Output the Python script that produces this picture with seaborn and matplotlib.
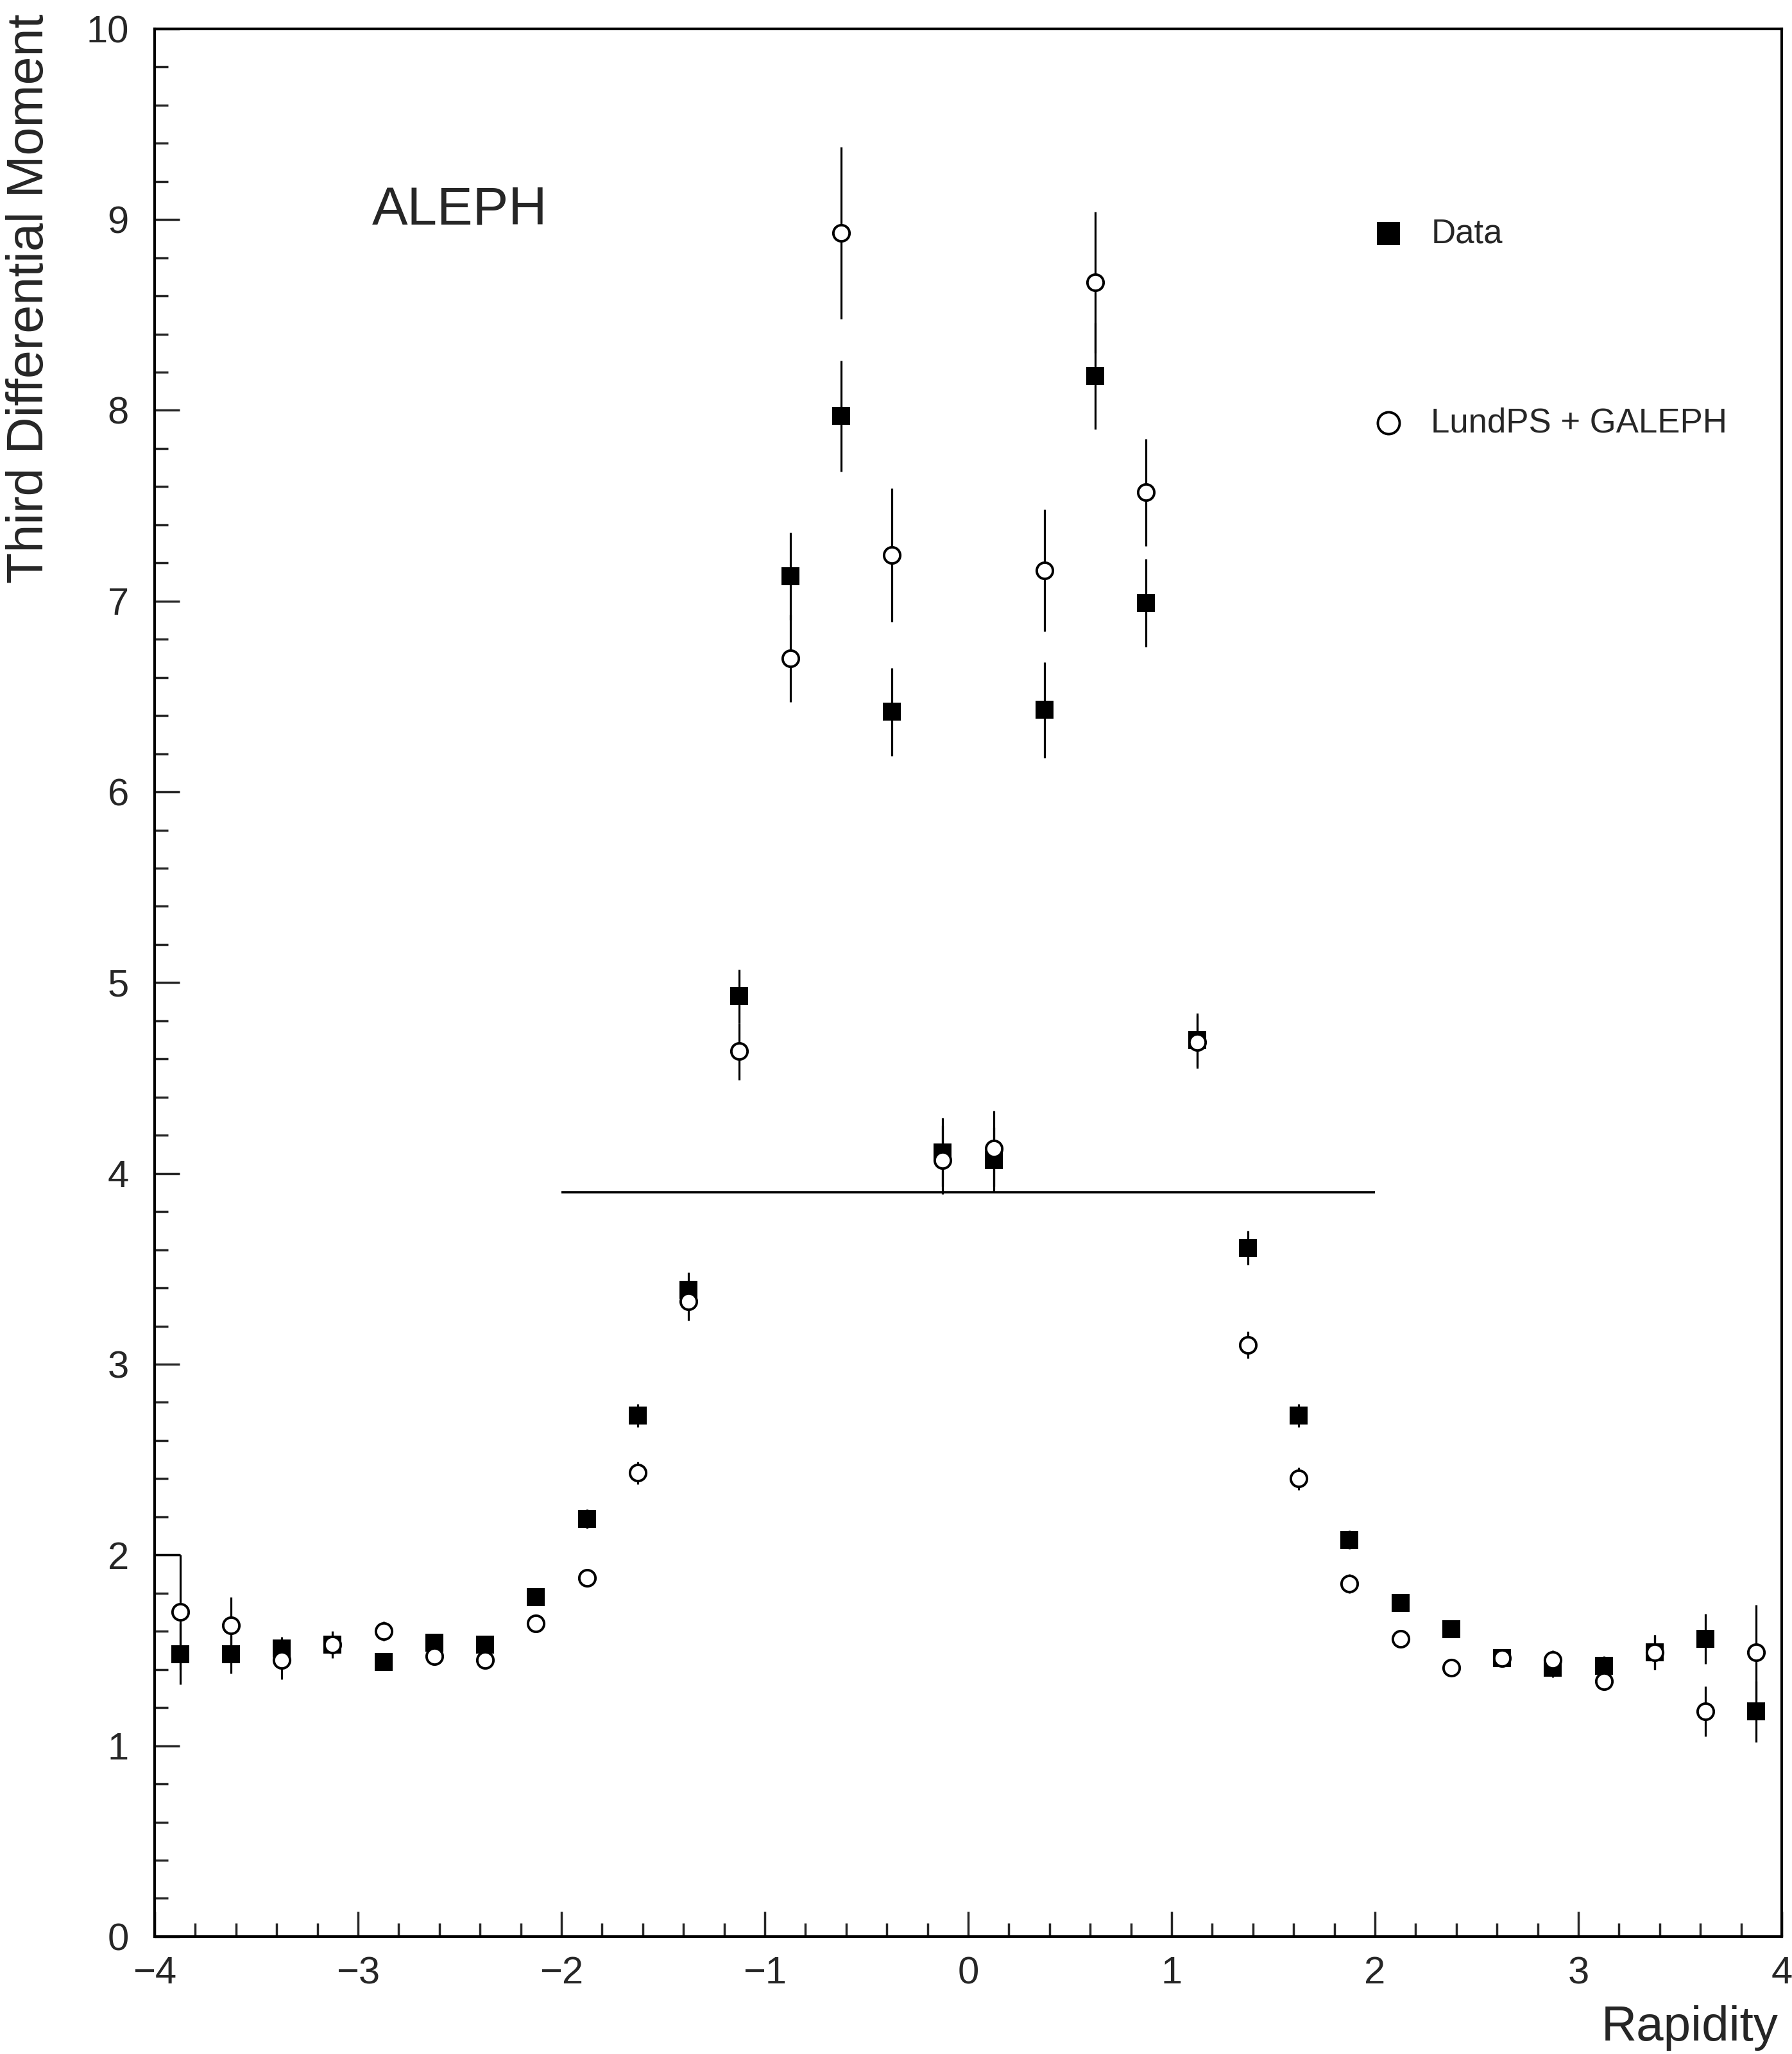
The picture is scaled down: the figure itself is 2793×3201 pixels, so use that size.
import numpy as np
import pandas as pd
import seaborn as sns
import matplotlib
matplotlib.use("Agg")
import matplotlib.pyplot as plt
from matplotlib.ticker import MultipleLocator

# Bin centres in rapidity
rapidity = [-3.875, -3.625, -3.375, -3.125, -2.875, -2.625, -2.375, -2.125,
            -1.875, -1.625, -1.375, -1.125, -0.875, -0.625, -0.375, -0.125,
            0.125, 0.375, 0.625, 0.875, 1.125, 1.375, 1.625, 1.875,
            2.125, 2.375, 2.625, 2.875, 3.125, 3.375, 3.625, 3.875]

# ALEPH data (filled squares)
data_moment = [1.48, 1.48, 1.51, 1.53, 1.44, 1.54, 1.53, 1.78,
               2.19, 2.73, 3.39, 4.93, 7.13, 7.97, 6.42, 4.11,
               4.07, 6.43, 8.18, 6.99, 4.70, 3.61, 2.73, 2.08,
               1.75, 1.61, 1.46, 1.41, 1.42, 1.49, 1.56, 1.18]
data_err = [0.16, 0.10, 0.06, 0.07, 0.04, 0.04, 0.04, 0.04,
            0.05, 0.06, 0.09, 0.14, 0.23, 0.29, 0.23, 0.18,
            0.17, 0.25, 0.28, 0.23, 0.14, 0.09, 0.06, 0.05,
            0.04, 0.04, 0.04, 0.05, 0.05, 0.09, 0.13, 0.16]

# LundPS + GALEPH (open circles)
mc_moment = [1.70, 1.63, 1.45, 1.53, 1.60, 1.47, 1.45, 1.64,
             1.88, 2.43, 3.33, 4.64, 6.70, 8.93, 7.24, 4.07,
             4.13, 7.16, 8.67, 7.57, 4.69, 3.10, 2.40, 1.85,
             1.56, 1.41, 1.46, 1.45, 1.34, 1.49, 1.18, 1.49]
mc_err = [0.30, 0.15, 0.10, 0.05, 0.05, 0.04, 0.04, 0.04,
          0.04, 0.06, 0.10, 0.15, 0.23, 0.45, 0.35, 0.18,
          0.20, 0.32, 0.37, 0.28, 0.14, 0.07, 0.06, 0.05,
          0.04, 0.04, 0.04, 0.05, 0.05, 0.09, 0.13, 0.25]

# horizontal reference line and the little edge step at the left
plateau_x = [-2.0, 2.0]
plateau_y = 3.9
edge_x = [-4.0, -3.875]
edge_y = 2.0

series_names = ["Data", "LundPS + GALEPH"]


def main():
    df = pd.DataFrame({
        "rapidity": rapidity * 2,
        "moment": data_moment + mc_moment,
        "err": data_err + mc_err,
        "sample": [series_names[0]] * len(rapidity) + [series_names[1]] * len(rapidity),
    })
    data = df[df["sample"] == series_names[0]]
    mc = df[df["sample"] == series_names[1]]

    sns.set_style("ticks")
    plt.rcParams["font.family"] = ["Liberation Sans", "DejaVu Sans"]

    fig = plt.figure(figsize=(27.93, 32.01), dpi=100)
    ax = fig.add_axes([0.0863, 0.0572, 0.908, 0.9288])

    # error bars
    ax.errorbar(data["rapidity"], data["moment"], yerr=data["err"], fmt="none",
                ecolor="black", elinewidth=2.3, capsize=0, zorder=1)
    ax.errorbar(mc["rapidity"], mc["moment"], yerr=mc["err"], fmt="none",
                ecolor="black", elinewidth=2.3, capsize=0, zorder=1)

    sns.scatterplot(data=data, x="rapidity", y="moment", marker="s", s=380,
                    color="black", edgecolor="black", linewidth=0, zorder=3,
                    label=series_names[0], ax=ax)
    sns.scatterplot(data=mc, x="rapidity", y="moment", marker="o", s=330,
                    color="white", edgecolor="black", linewidth=2.8, zorder=4,
                    label=series_names[1], ax=ax)

    ax.hlines(plateau_y, plateau_x[0], plateau_x[1], color="black", lw=2.6, zorder=2)
    ax.hlines(edge_y, edge_x[0], edge_x[1], color="black", lw=2.3, zorder=2)

    ax.text(-2.93, 9.05, "ALEPH", fontsize=60, va="center", ha="left")

    ax.set_xlim(-4, 4)
    ax.set_ylim(0, 10)
    ax.xaxis.set_major_locator(MultipleLocator(1))
    ax.xaxis.set_minor_locator(MultipleLocator(0.2))
    ax.yaxis.set_major_locator(MultipleLocator(1))
    ax.yaxis.set_minor_locator(MultipleLocator(0.2))
    ax.tick_params(which="both", direction="in", top=False, right=False, width=2.5)
    ax.tick_params(which="major", length=28, labelsize=43)
    ax.tick_params(which="minor", length=15)
    ax.tick_params(axis="x", pad=22)
    ax.tick_params(axis="y", pad=29)
    for sp in ax.spines.values():
        sp.set_linewidth(3)
        sp.set_color("black")

    ax.set_xlabel("Rapidity", fontsize=55, loc="right")
    ax.xaxis.set_label_coords(0.998, -0.036)
    ax.set_ylabel("Third Differential Moment", fontsize=57, loc="top")
    ax.yaxis.set_label_coords(-0.062, 1.008)

    ax.legend(loc="upper left", bbox_to_anchor=(0.748, 0.901), frameon=False,
              fontsize=38, handlelength=1.0, handletextpad=0.75, labelspacing=4.64,
              borderpad=0, borderaxespad=0, scatterpoints=1, markerscale=1.35)

    fig.savefig("out.png", dpi=100)


if __name__ == "__main__":
    main()
